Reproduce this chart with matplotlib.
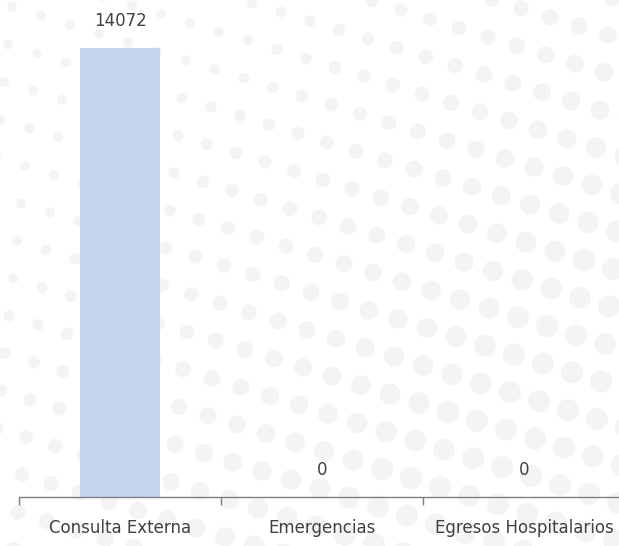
import matplotlib
matplotlib.use('Agg')
import matplotlib.pyplot as plt
import numpy as np

categories = ['Consulta Externa', 'Emergencias', 'Egresos Hospitalarios']
values = [14072, 0, 0]

W, H, DPI = 619, 546, 100
fig = plt.figure(figsize=(W / DPI, H / DPI), dpi=DPI)
fig.patch.set_facecolor('white')

# decorative dotted background (figure pixels, y down)
bg = fig.add_axes([0, 0, 1, 1], zorder=0)
bg.set_xlim(0, W); bg.set_ylim(H, 0)
bg.axis('off')
a = np.array([29.0, 8.9])
b = np.array([-4.0, 37.5])
for i in range(-10, 40):
    for j in range(-10, 30):
        x, y = 12 + i * a[0] + j * b[0], 7 + i * a[1] + j * b[1]
        if -15 < x < W + 15 and -15 < y < H + 15:
            t = np.clip((x / W) * 0.6 + (y / H) * 0.5 + 0.2, 0.45, 1.0)
            bg.add_patch(plt.Circle((x, y), 11.0 * t, color='#f4f4f4', lw=0))

ax = fig.add_axes([19 / W, (H - 497) / H, 606 / W, 497 / H], zorder=1)
ax.patch.set_alpha(0)
x = np.arange(len(categories))
ax.bar(x, values, width=0.4, color='#c5d4ec', zorder=2)
ax.set_xlim(-0.5, 2.5)
ax.set_ylim(0, 14072 * 497 / (497 - 47.7))

for xi, v in zip(x, values):
    ax.annotate(f'{v}', (xi, v), xytext=(0, 13), textcoords='offset points',
                ha='center', va='bottom', fontsize=12, color='#404040',
                family=['Liberation Sans Narrow', 'DejaVu Sans'])

for s in ['top', 'right', 'left']:
    ax.spines[s].set_visible(False)
ax.spines['bottom'].set_color('#7f7f7f')
ax.spines['bottom'].set_linewidth(1.0)
ax.set_yticks([])
ax.set_xticks([-0.5, 0.5, 1.5, 2.5], minor=False)
ax.set_xticklabels([])
ax.tick_params(axis='x', which='major', length=6, color='#7f7f7f', width=1.0)
ax.set_xticks(x, minor=True)
ax.set_xticklabels(categories, minor=True, fontsize=12, color='#404040',
                   family=['Liberation Sans Narrow', 'DejaVu Sans'])
ax.tick_params(axis='x', which='minor', length=0, pad=16)

fig.savefig('out.png', dpi=DPI)
